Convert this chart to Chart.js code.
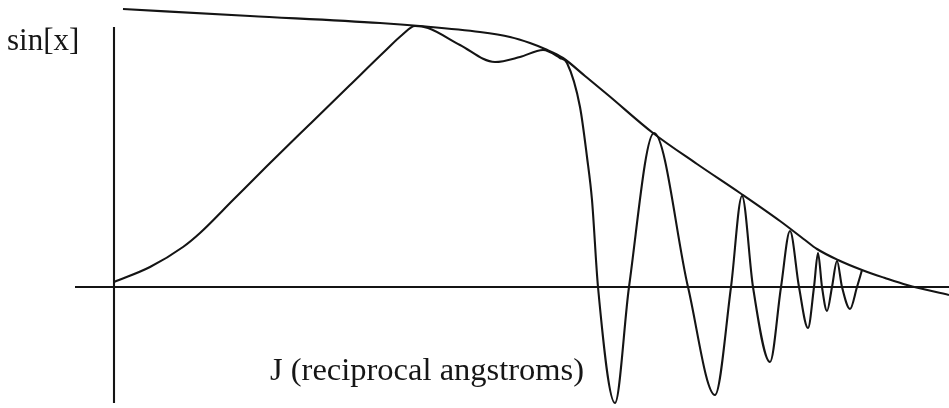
<!DOCTYPE html>
<html>
<head>
<meta charset="utf-8">
<script src="https://cdn.jsdelivr.net/npm/chart.js"></script>
<style>
    html, body { margin: 0; padding: 0; background: #ffffff; }
    #wrap { width: 949px; height: 408px; }
</style>
</head>
<body>
<div id="wrap"><canvas id="chart" width="949" height="408"></canvas></div>
<script>
// Oscillating signal sin[x] against J (reciprocal angstroms)
const signalJ = [0, 3.6, 6.9, 8.6, 11.9, 15.3, 19.6, 23.6, 27.1, 28.8, 30.1, 31.4, 34.6, 38.1,
    40.6, 42.9, 44.6, 45.3, 46.6, 47.3, 47.8, 48.4, 50.1, 51.5, 54.0, 57.4, 60.1, 61.7, 62.8,
    63.9, 65.6, 66.7, 67.6, 68.5, 69.4, 70.0, 70.4, 70.8, 71.3, 71.8, 72.3, 72.8, 73.6, 74.3, 74.8];
const signalY = [0.5, 2.0, 4.0, 5.4, 8.7, 12.1, 16.3, 20.2, 23.6, 25.2, 26.1, 25.9, 24.2, 22.5,
    23.0, 23.7, 22.9, 22.4, 18.0, 13.0, 8.7, 0, -11.6, 0, 15.4, 0, -10.8, 0, 9.1,
    0, -7.5, 0, 5.6, 0, -4.1, 0, 3.4, 0, -2.4, 0, 2.6, 0, -2.2, 0, 1.7];

// Upper envelope
const envelopeJ = [0.9, 13.6, 26.6, 30.6, 36.6, 39.6, 41.6, 43.1, 44.9, 47.1, 49.4, 53.9, 58.3,
    62.6, 66.6, 69.1, 70.3, 72.4, 74.8, 77.1, 79.3, 83.5];
const envelopeY = [27.8, 27.1, 26.4, 26.1, 25.5, 25.0, 24.4, 23.8, 22.9, 21.1, 19.2, 15.4, 12.3,
    9.4, 6.6, 4.7, 3.8, 2.7, 1.7, 0.9, 0.2, -0.8];

// Axis lines
const horizAxisJ = [-3.9, 83.5];
const vertAxisY = [26.0, -11.6];

const ink = '#141414';

function toPoints(xs, ys) {
    return xs.map((x, i) => ({ x: x, y: ys[i] }));
}

function lineSet(data, smooth) {
    return {
        data: data,
        borderColor: ink,
        borderWidth: 2.1,
        pointRadius: 0,
        fill: false,
        cubicInterpolationMode: smooth ? 'monotone' : 'default',
        tension: 0
    };
}

// Axis captions drawn after the datasets
const captions = {
    id: 'captions',
    afterDraw(chart) {
        const ctx = chart.ctx;
        ctx.save();
        ctx.fillStyle = '#161616';
        ctx.textBaseline = 'alphabetic';
        ctx.textAlign = 'left';
        ctx.font = '31px "Liberation Serif", "Times New Roman", serif';
        ctx.fillText('sin[x]', 7, 50);
        ctx.font = '32.5px "Liberation Serif", "Times New Roman", serif';
        ctx.fillText('J (reciprocal angstroms)', 270, 380);
        ctx.restore();
    }
};

new Chart(document.getElementById('chart'), {
    type: 'line',
    data: {
        datasets: [
            lineSet(toPoints(horizAxisJ, [0, 0]), false),
            lineSet(toPoints([0, 0], vertAxisY), false),
            lineSet(toPoints(envelopeJ, envelopeY), true),
            lineSet(toPoints(signalJ, signalY), true)
        ]
    },
    options: {
        responsive: false,
        animation: false,
        layout: { padding: 0 },
        scales: {
            x: { type: 'linear', min: -11.4, max: 83.5, display: false },
            y: { type: 'linear', min: -12.1, max: 28.7, display: false }
        },
        plugins: {
            legend: { display: false },
            tooltip: { enabled: false }
        }
    },
    plugins: [captions]
});
</script>
</body>
</html>
